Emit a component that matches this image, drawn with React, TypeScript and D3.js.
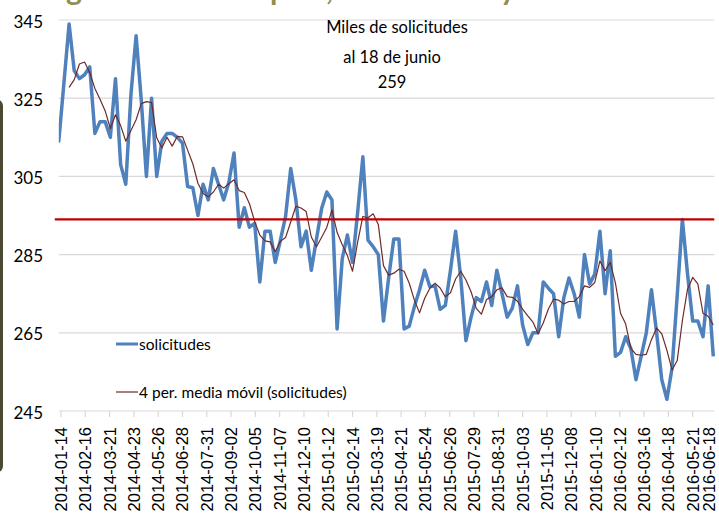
import * as d3 from "d3"

const W = 719, H = 523
const X0 = 58.8, X1 = 713.3, Y0 = 20, Y1 = 411

// weekly series, first week (2014-01-04) falls left of the axis and is clipped
const firstWeek = "2014-01-04"
const solicitudes = [
  324, 314, 329, 344, 332, 330, 331, 333, 316, 319,
  319, 315, 330, 308, 303, 326, 341, 324.5, 305, 325,
  305, 314, 316, 316, 315, 313.5, 302.4, 302.1, 295, 303,
  299, 307, 303, 299, 303.5, 311, 292, 297, 292, 293,
  278, 291, 291, 283, 288.7, 294.7, 307, 299, 287, 291,
  281, 289, 296.8, 301, 299, 266, 284, 290, 283, 296,
  310, 288.7, 287, 285, 268, 279, 289, 289, 266, 266.7,
  271.7, 276, 281, 276.8, 277, 271, 272, 281, 291, 279,
  263, 269, 274, 273, 278, 272, 281, 275, 269, 271.3,
  277, 267, 262, 265, 265, 278, 276.4, 275, 264, 274,
  279, 275, 269, 285, 277.5, 280, 291, 275, 286, 259,
  260, 264, 261, 253, 259, 265, 276, 265, 253, 248,
  256, 274.6, 294, 280, 268, 268, 264, 277, 259,
]
const maPeriod = 4
const refLevel = 294
const axisStart = "2014-01-11"
const axisEnd = "2016-06-18"
const yTicks = [245, 265, 285, 305, 325, 345]
const xTickLabels = [
  "2014-01-14", "2014-02-16", "2014-03-21", "2014-04-23", "2014-05-26", "2014-06-28",
  "2014-07-31", "2014-09-02", "2014-10-05", "2014-11-07", "2014-12-10", "2015-01-12",
  "2015-02-14", "2015-03-19", "2015-04-21", "2015-05-24", "2015-06-26", "2015-07-29",
  "2015-08-31", "2015-10-03", "2015-11-05", "2015-12-08", "2016-01-10", "2016-02-12",
  "2016-03-16", "2016-04-18", "2016-05-21", "2016-06-18",
]
const noteLines = ["Miles de solicitudes", "al 18 de junio", "259"]
const legendLabels = ["solicitudes", "4 per. media móvil (solicitudes)"]

const BLUE = "#4f81bd", MA_COLOR = "#6e2b2a", RED = "#c00000", GRID = "#d9d9d9"
const CAL = "Lato, 'Open Sans', sans-serif"

const parse = d3.utcParse("%Y-%m-%d")

export default function App() {
  const start = parse(firstWeek)!
  const pts = solicitudes.map((v, i) => ({ d: d3.utcDay.offset(start, 7 * i), v }))
  const ma = pts
    .map((p, i) => i < maPeriod - 1 ? null : { d: p.d, v: d3.mean(solicitudes.slice(i - maPeriod + 1, i + 1))! })
    .filter(Boolean) as { d: Date, v: number }[]

  const x = d3.scaleUtc().domain([parse(axisStart)!, parse(axisEnd)!]).range([X0, X1])
  const y = d3.scaleLinear().domain([245, 345]).range([Y1, Y0])
  const line = d3.line<{ d: Date, v: number }>().x(p => x(p.d)).y(p => y(p.v))

  return (
    <div style={{ position: "fixed", left: 0, top: 0 }}>
      <svg width={W} height={H} style={{ display: "block", background: "#fff" }}>
        <defs>
          <clipPath id="plot"><rect x={X0} y={0} width={X1 - X0 + 2} height={H} /></clipPath>
        </defs>

        {/* cropped slide title: only descenders remain */}
        <g fill="#948f50" fontFamily={CAL} fontWeight={700} fontSize={30}>
          <text x={66} y={0}>g</text>
          <text x={270} y={0}>p</text>
          <text x={326} y={0}>,</text>
          <text x={500} y={0}>y</text>
        </g>
        <rect x={-7} y={100} width={10} height={372} rx={6} fill="#4b4932" />

        {yTicks.filter(t => t !== 245).map(t => (
          <line key={t} x1={X0} x2={X1 + 1} y1={y(t)} y2={y(t)} stroke={GRID} strokeWidth={1.2} />
        ))}
        {yTicks.map(t => (
          <text key={t} x={43} y={y(t) + 1} textAnchor="end" dominantBaseline="central"
            fontFamily={CAL} fontSize={17} fill="#000">{t}</text>
        ))}

        {/* x axis */}
        <line x1={X0} x2={X1 + 1} y1={Y1} y2={Y1} stroke={GRID} strokeWidth={1.2} />
        {xTickLabels.map((s, i) => {
          const tx = x(parse(s)!)
          const lx = Math.min(tx, 709)
          return (
            <g key={s}>
              {i < xTickLabels.length - 1 && <line x1={tx} x2={tx} y1={Y1} y2={Y1 + 6} stroke={GRID} strokeWidth={1.2} />}
              <text transform={`translate(${lx},${427}) rotate(-90)`} textAnchor="end" dominantBaseline="central"
                fontFamily="'Liberation Sans', Arial, sans-serif" fontSize={16.5} fill="#000">{s}</text>
            </g>
          )
        })}

        <g clipPath="url(#plot)">
          <path d={line(pts)!} fill="none" stroke={BLUE} strokeWidth={3.5} strokeLinejoin="round" />
          <path d={line(ma)!} fill="none" stroke={MA_COLOR} strokeWidth={1.2} strokeLinejoin="round" />
        </g>
        <line x1={X0 - 4} x2={X1 + 1} y1={y(refLevel)} y2={y(refLevel)} stroke={RED} strokeWidth={2.2} />

        {/* note */}
        <g fontFamily={CAL} fontSize={16.5} fill="#000" textAnchor="middle">
          <text x={397} y={33}>{noteLines[0]}</text>
          <text x={392} y={63}>{noteLines[1]}</text>
          <text x={392} y={88}>{noteLines[2]}</text>
        </g>

        {/* legend */}
        <g fontFamily={CAL} fontSize={15.5} fill="#000">
          <line x1={116} x2={138} y1={344} y2={344} stroke={BLUE} strokeWidth={3} />
          <text x={139} y={350}>{legendLabels[0]}</text>
          <line x1={116} x2={138} y1={392} y2={392} stroke={MA_COLOR} strokeWidth={1.2} />
          <text x={139} y={398}>{legendLabels[1]}</text>
        </g>
      </svg>
    </div>
  )
}
